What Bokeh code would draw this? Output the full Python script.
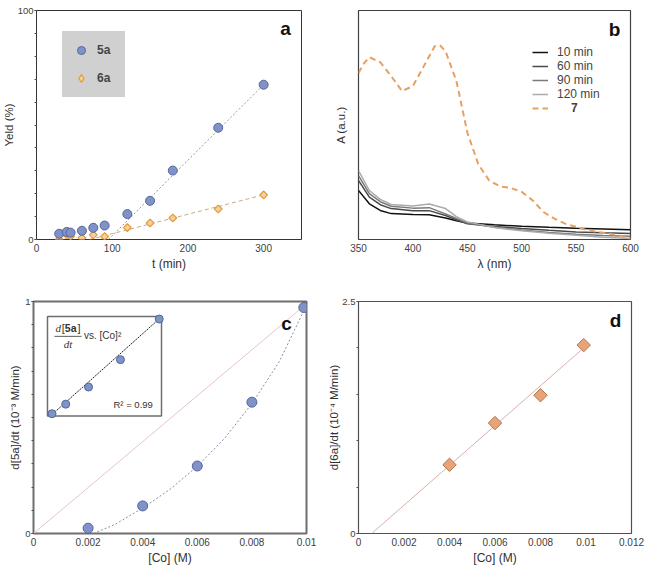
import math
from bokeh.plotting import figure
from bokeh.layouts import column, row
from bokeh.models import (Range1d, FixedTicker, CustomJSTickFormatter, Legend,
                          LegendItem, Label, Title)
from bokeh.embed import file_html
from bokeh.resources import INLINE

FONT = "Liberation Sans"

# ---------------- data: panel a ----------------
t_min = [30, 40, 45, 60, 75, 90, 120, 150, 180, 240, 300]
yield_5a = [2.5, 3.3, 3.0, 3.8, 5.1, 6.1, 11.1, 16.9, 30.1, 48.8, 67.6]
yield_6a = [0.0, 2.0, 1.4, 0.7, 2.0, 1.3, 5.2, 7.2, 9.4, 13.3, 19.5]
fit_5a_t = [95, 300]
fit_5a_y = [0.0, 67.6]
fit_6a_t = [70, 300]
fit_6a_y = [0.0, 19.5]
a_xticks = [0, 100, 200, 300]
a_yticks = [0, 100]

# ---------------- data: panel b ----------------
wl_uv = [350, 360, 370, 380, 400, 415, 430, 440, 450, 475, 500, 525, 550, 575, 600]
abs_10 = [0.214, 0.156, 0.127, 0.113, 0.109, 0.108, 0.094, 0.082, 0.072, 0.064, 0.058, 0.053, 0.049, 0.046, 0.043]
abs_60 = [0.258, 0.185, 0.152, 0.135, 0.126, 0.126, 0.105, 0.086, 0.069, 0.057, 0.048, 0.040, 0.033, 0.029, 0.026]
abs_90 = [0.279, 0.200, 0.165, 0.145, 0.137, 0.139, 0.112, 0.092, 0.072, 0.054, 0.041, 0.031, 0.023, 0.018, 0.014]
abs_120 = [0.301, 0.214, 0.175, 0.153, 0.146, 0.155, 0.135, 0.100, 0.077, 0.052, 0.038, 0.027, 0.019, 0.010, 0.004]
wl_7 = [350, 355, 360, 370, 380, 390, 400, 410, 420, 425, 430, 440, 450, 460, 470,
        480, 490, 500, 510, 520, 530, 540, 550, 560, 570, 580, 590, 600]
abs_7 = [0.727, 0.769, 0.796, 0.774, 0.714, 0.648, 0.670, 0.756, 0.844, 0.847, 0.822,
         0.692, 0.468, 0.330, 0.258, 0.232, 0.225, 0.208, 0.171, 0.120, 0.091, 0.069,
         0.055, 0.041, 0.033, 0.026, 0.017, 0.003]
b_xticks = [350, 400, 450, 500, 550, 600]
b_labels = ["10 min", "60 min", "90 min", "120 min"]

# ---------------- data: panel c ----------------
co_c = [0.002, 0.004, 0.006, 0.008, 0.0099]
rate_5a = [0.023, 0.119, 0.291, 0.566, 0.974]
curve_c_x = [0.0022, 0.003, 0.004, 0.005, 0.006, 0.007, 0.008, 0.009, 0.0099]
curve_c_y = [0.0, 0.04, 0.11, 0.19, 0.29, 0.41, 0.56, 0.74, 0.96]
ref_c_x = [0.0, 0.0099]
ref_c_y = [0.0, 0.98]
co_sq = [c * c for c in co_c]
inset_fit_x = [2.5e-6, 9.9e-5]
inset_fit_y = [0.0, 0.985]
inset_xr = (0.0, 1e-4)
inset_yr = (0.0, 1.0)
c_xticks = [0, 0.002, 0.004, 0.006, 0.008, 0.01]
c_yticks = [0, 1]

# ---------------- data: panel d ----------------
co_d = [0.004, 0.006, 0.008, 0.0099]
rate_6a = [0.74, 1.19, 1.49, 2.03]
fit_d_x = [0.00058, 0.0099]
fit_d_y = [0.0, 2.0]
d_xticks = [0, 0.002, 0.004, 0.006, 0.008, 0.01, 0.012]
d_yticks = [0, 2.5]

fmt_code = "return String(tick);"


def make_fig(w, h, xr, yr, bl, br, bt, bb, oc, ow):
    p = figure(width=w, height=h, x_range=Range1d(*xr), y_range=Range1d(*yr),
               output_backend="svg", toolbar_location=None,
               min_border_left=bl, min_border_right=br,
               min_border_top=bt, min_border_bottom=bb)
    p.xgrid.visible = False
    p.ygrid.visible = False
    p.outline_line_color = oc
    p.outline_line_width = ow
    p.outline_line_alpha = 1
    for ax in p.axis:
        ax.axis_line_color = None
        ax.major_label_text_font = FONT
        ax.major_label_text_font_size = "10px"
        ax.major_label_text_color = "#404040"
        ax.axis_label_text_font = FONT
        ax.axis_label_text_font_size = "12px"
        ax.axis_label_text_font_style = "normal"
        ax.axis_label_text_color = "#303030"
        ax.major_tick_in = 0
        ax.minor_tick_in = 0
        ax.major_tick_line_color = "#505050"
        ax.minor_tick_line_color = "#505050"
        ax.formatter = CustomJSTickFormatter(code=fmt_code)
    p.xaxis.major_tick_out = 0
    p.xaxis.minor_tick_out = 0
    p.xaxis.major_label_standoff = 4
    p.xaxis.axis_label_standoff = 2
    p.yaxis.major_tick_out = 2
    p.yaxis.minor_tick_out = 2
    p.yaxis.major_label_standoff = 1
    p.yaxis.major_label_text_font_size = "9.5px"
    return p


def ytitle(p, s, standoff=0):
    # vertical axis title placed in the left margin
    p.add_layout(Title(text=s, align="center", text_font=FONT, text_font_size="11.5px",
                       text_font_style="normal", text_color="#303030",
                       standoff=standoff, offset=0), "left")


def letter(p, x, y, s):
    p.add_layout(Label(x=x, y=y, text=s, text_font=FONT, text_font_style="bold",
                       text_font_size="19px", text_align="center",
                       text_baseline="middle", text_color="#111111"))


# ================= panel a =================
pa = make_fig(325, 290, (0, 350), (0, 100), 35, 24, 10, 50, "#333333", 1)
pa.xaxis.ticker = FixedTicker(ticks=a_xticks, minor_ticks=[])
pa.yaxis.ticker = FixedTicker(ticks=a_yticks, minor_ticks=list(range(0, 101, 10)))
pa.xaxis.axis_label = "t (min)"
ytitle(pa, "Yeld (%)")
pa.line(fit_5a_t, fit_5a_y, line_color="#9a9a9a", line_width=1, line_dash="2 2")
pa.line(fit_6a_t, fit_6a_y, line_color="#c8a888", line_width=1, line_dash="4 3")
pa.scatter(t_min, yield_6a, marker="square", angle=math.pi / 4, size=5.5,
           fill_color="#f6cf9c", line_color="#e49a3c", line_width=1.2)
r5a = pa.scatter(t_min, yield_5a, marker="circle", size=9,
                 fill_color="#7f93c9", line_color="#56669a", line_width=1)
# zero-size diamond copy of the 6a series: gives the legend a diamond key
r6a_key = pa.scatter(t_min, yield_6a, marker="diamond", size=0,
                     fill_color="#f6cf9c", line_color="#e49a3c", line_width=1.2)
leg_a = Legend(items=[LegendItem(label="5a", renderers=[r5a]),
                      LegendItem(label="6a", renderers=[r6a_key])],
               location=(26, 142), background_fill_color="#d0d0d0",
               background_fill_alpha=1, border_line_color="#d0d0d0",
               label_text_font=FONT, label_text_font_style="bold",
               label_text_font_size="12px", glyph_width=20, glyph_height=20,
               label_height=20, label_width=19, spacing=8, padding=8, margin=0,
               label_standoff=6)
pa.add_layout(leg_a)
letter(pa, 329, 92, "a")

# ================= panel b =================
pb = make_fig(325, 290, (350, 600), (0, 1), 33, 20, 9, 51, "#404040", 1.2)
pb.xaxis.ticker = FixedTicker(ticks=b_xticks, minor_ticks=[])
pb.yaxis.ticker = FixedTicker(ticks=[], minor_ticks=[])
pb.yaxis.major_tick_out = 0
pb.yaxis.axis_label = "A (a.u.)"
pb.yaxis.axis_label_text_font_size = "11.5px"
pb.yaxis.axis_label_standoff = 12
pb.xaxis.axis_label = "λ (nm)"
gray_series = [abs_10, abs_60, abs_90, abs_120]
gray_colors = ["#111111", "#4a4a4a", "#7a7a7a", "#ababab"]
gray_r = []
for ys, col in zip(gray_series, gray_colors):
    gray_r.append(pb.line(wl_uv, ys, line_color=col, line_width=1.5))
r7 = pb.line(wl_7, abs_7, line_color="#e8a060", line_width=2, line_dash="6 4")
leg_b1 = Legend(items=[LegendItem(label=l, renderers=[r]) for l, r in zip(b_labels, gray_r)],
                location=(174, 138), background_fill_alpha=0, border_line_color=None,
                label_text_font=FONT, label_text_font_size="12px",
                glyph_width=16, glyph_height=14, label_height=14, spacing=0,
                padding=0, margin=0, label_standoff=9)
leg_b2 = Legend(items=[LegendItem(label="7", renderers=[r7])],
                location=(174, 124), background_fill_alpha=0, border_line_color=None,
                label_text_font=FONT, label_text_font_size="12px",
                label_text_font_style="bold",
                glyph_width=16, glyph_height=14, label_height=14, spacing=0,
                padding=0, margin=0, label_standoff=23)
pb.add_layout(leg_b1)
pb.add_layout(leg_b2)
letter(pb, 585.3, 0.917, "b")

# ================= panel c =================
pc = make_fig(325, 288, (0, 0.01), (0, 1), 33, 19, 10, 45, "#6e6e6e", 2)
pc.xaxis.ticker = FixedTicker(ticks=c_xticks, minor_ticks=[])
pc.yaxis.ticker = FixedTicker(ticks=c_yticks, minor_ticks=[i / 10 for i in range(11)])
pc.xaxis.axis_label = "[Co] (M)"
ytitle(pc, "d[5a]/dt (10⁻³ M/min)", standoff=3)
# inset placement (pixels inside the 273x233 frame)
fw, fh = 273, 233
bx0, bx1, by0, by1 = 14, 128, 118, 218
sx = (inset_xr[1] - inset_xr[0]) / (bx1 - bx0)
sy = (inset_yr[1] - inset_yr[0]) / (by1 - by0)
ix0 = inset_xr[0] - bx0 * sx
iy0 = inset_yr[0] - by0 * sy
pc.extra_x_ranges = {"ix": Range1d(ix0, ix0 + fw * sx)}
pc.extra_y_ranges = {"iy": Range1d(iy0, iy0 + fh * sy)}

pc.line(ref_c_x, ref_c_y, line_color="#e6c4cc", line_width=1)
pc.line(curve_c_x, curve_c_y, line_color="#8090b0", line_width=1, line_dash="2 2")
pc.scatter(co_c, rate_5a, marker="circle", size=10,
           fill_color="#7f93c9", line_color="#56669a", line_width=1)
pc.quad(left=[inset_xr[0]], right=[inset_xr[1]], bottom=[inset_yr[0]], top=[inset_yr[1]],
        fill_color="white", line_color="#6e6e6e", line_width=1.5,
        x_range_name="ix", y_range_name="iy")
pc.line(inset_fit_x, inset_fit_y, line_color="#222222", line_width=1, line_dash="2 1",
        x_range_name="ix", y_range_name="iy")
pc.scatter(co_sq, rate_5a, marker="circle", size=8,
           fill_color="#7f93c9", line_color="#56669a", line_width=1,
           x_range_name="ix", y_range_name="iy")
pc.line([6.1e-6, 29.8e-6], [0.80, 0.80], line_color="#333333", line_width=0.8,
        x_range_name="ix", y_range_name="iy")


def ilabel(x, y, s, font=FONT, style="normal", align="left", size="10px"):
    pc.add_layout(Label(x=x, y=y, text=s, text_font=font, text_font_style=style,
                        text_font_size=size, text_align=align, text_baseline="middle",
                        text_color="#333333", x_range_name="ix", y_range_name="iy"))


ilabel(7.0e-6, 0.88, "d", font="Liberation Serif", style="italic", size="11px")
ilabel(12.4e-6, 0.88, "[", size="11px")
ilabel(15.2e-6, 0.88, "5a", style="bold", size="10.5px")
ilabel(26.4e-6, 0.88, "]", size="11px")
ilabel(18.0e-6, 0.72, "dt", font="Liberation Serif", style="italic", align="center", size="11px")
ilabel(32.0e-6, 0.81, "vs. [Co]²", size="10px")
ilabel(57.9e-6, 0.12, "R² = 0.99", size="9.5px")
letter(pc, 0.00927, 0.906, "c")

# ================= panel d =================
pd_ = make_fig(325, 288, (0, 0.012), (0, 2.5), 31, 19, 11, 41, "#505050", 1.2)
pd_.xaxis.ticker = FixedTicker(ticks=d_xticks, minor_ticks=[])
pd_.yaxis.ticker = FixedTicker(ticks=d_yticks, minor_ticks=[0, 0.5, 1, 1.5, 2, 2.5])
pd_.xaxis.axis_label = "[Co] (M)"
ytitle(pd_, "d[6a]/dt (10⁻⁴ M/min)")
pd_.line(fit_d_x, fit_d_y, line_color="#dcb0ac", line_width=1)
pd_.scatter(co_d, rate_6a, marker="square", angle=math.pi / 4, size=9.5,
            fill_color="#e8a478", line_color="#b07850", line_width=1)
letter(pd_, 0.0113, 2.29, "d")

layout = column(row(pa, pb), row(pc, pd_))
open("out.html", "w").write(file_html(layout, INLINE))
